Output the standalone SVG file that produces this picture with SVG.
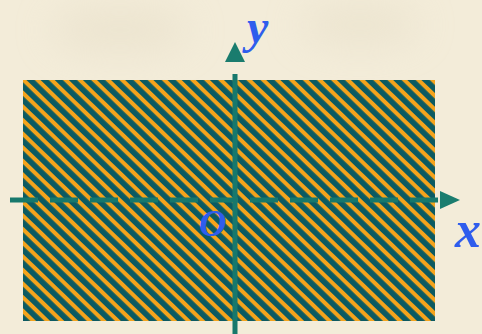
<svg xmlns="http://www.w3.org/2000/svg" width="482" height="334" viewBox="0 0 482 334">
  <defs>
    <pattern id="stripes" patternUnits="userSpaceOnUse" width="40" height="9.8" patternTransform="rotate(44)">
      <rect x="0" y="0" width="40" height="9.8" fill="#0b5a62"/>
      <rect x="0" y="0" width="40" height="4.1" fill="#f4a31c"/>
    </pattern>
    <filter id="blur" x="-50%" y="-50%" width="200%" height="200%">
      <feGaussianBlur stdDeviation="18"/>
    </filter>
    <style>
      .axis { stroke: #17786c; stroke-width: 5; fill: none; }
      .dash { stroke-dasharray: 28 12; }
      .head { fill: #1a7c6e; }
      .lbl { font-family: "Liberation Serif", "DejaVu Serif", serif; font-style: italic; font-weight: bold; fill: #2f5ded; }
    </style>
  </defs>
  <rect width="482" height="334" fill="#f3ecd9"/>
  <g filter="url(#blur)" fill="#e8e0ca" opacity="0.6">
    <ellipse cx="120" cy="30" rx="70" ry="25"/>
    <ellipse cx="360" cy="25" rx="60" ry="22"/>
  </g>
  <g id="region">
    <rect x="23" y="80" width="412" height="241" fill="url(#stripes)"/>
  </g>
  <g id="connectors">
    <line class="axis dash" x1="10" y1="200" x2="440" y2="200"/>
    <path class="head" d="M440,191 L460,200 L440,209 Z"/>
    <line class="axis" x1="235" y1="334" x2="235" y2="74"/>
    <path class="head" d="M225,62 L235,42 L245,62 Z"/>
  </g>
  <g id="labels">
    <text class="lbl" x="247" y="43" font-size="48">y</text>
    <text class="lbl" x="455" y="247" font-size="52">x</text>
    <text class="lbl" x="199" y="236" font-size="38">O</text>
  </g>
</svg>
